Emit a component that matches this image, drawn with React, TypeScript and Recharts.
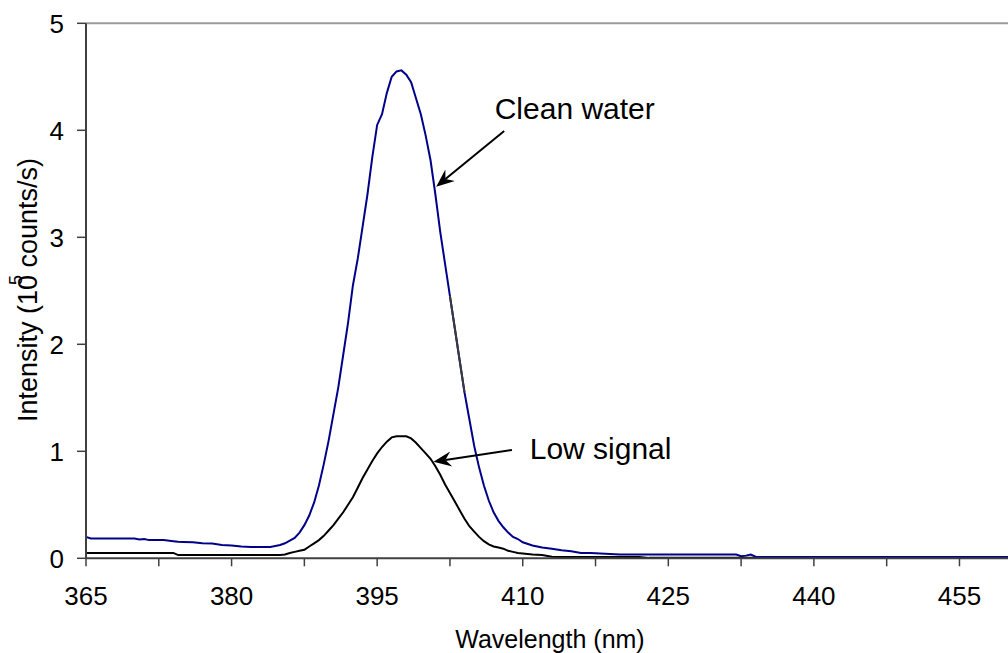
import React from 'react';
import { LineChart, Line, XAxis, YAxis, ReferenceLine, ReferenceDot } from 'recharts';

// Wavelength (nm)
const wavelengths = [
  365, 365.5, 366, 367, 368, 369, 370, 370.5, 371, 371.5, 372, 373, 374, 374.5, 375, 376, 377, 378, 379, 380,
  381, 382, 383, 384, 385, 385.5, 386, 386.5, 387, 387.5, 388, 388.5, 389, 389.5, 390, 390.5, 391, 391.5, 392, 392.5,
  393, 393.5, 394, 394.5, 395, 395.5, 396, 396.5, 397, 397.5, 398, 398.5, 399, 399.5, 400, 400.5, 401, 401.5, 402, 402.5,
  403, 403.5, 404, 404.5, 405, 405.5, 406, 406.5, 407, 407.5, 408, 408.5, 409, 409.5, 410, 411, 412, 413, 414, 415,
  416, 417, 418, 419, 420, 422, 423, 425, 430, 432, 432.5, 433, 433.5, 434, 435, 440, 445, 450, 455, 460,
];

// Intensity (10^5 counts/s)
const cleanWater = [
  0.2, 0.185, 0.185, 0.185, 0.185, 0.185, 0.185, 0.175, 0.18, 0.17, 0.17, 0.17, 0.16, 0.155, 0.153, 0.15, 0.14, 0.138, 0.125, 0.12,
  0.11, 0.106, 0.106, 0.106, 0.125, 0.14, 0.165, 0.19, 0.24, 0.31, 0.4, 0.52, 0.68, 0.88, 1.1, 1.35, 1.6, 1.9, 2.2, 2.55,
  2.8, 3.1, 3.4, 3.75, 4.05, 4.15, 4.35, 4.5, 4.55, 4.56, 4.52, 4.45, 4.3, 4.15, 3.95, 3.72, 3.4, 3.05, 2.75, 2.45,
  2.15, 1.85, 1.55, 1.3, 1.05, 0.85, 0.68, 0.54, 0.43, 0.35, 0.29, 0.24, 0.2, 0.18, 0.15, 0.12, 0.1, 0.09, 0.075, 0.065,
  0.05, 0.05, 0.045, 0.04, 0.035, 0.035, 0.035, 0.035, 0.035, 0.035, 0.02, 0.025, 0.035, 0.015, 0.012, 0.012, 0.012, 0.012, 0.012, 0.012,
];

const lowSignal = [
  0.05, 0.05, 0.05, 0.05, 0.05, 0.05, 0.05, 0.05, 0.05, 0.05, 0.05, 0.05, 0.05, 0.03, 0.03, 0.03, 0.03, 0.03, 0.03, 0.03,
  0.03, 0.03, 0.03, 0.03, 0.03, 0.035, 0.05, 0.06, 0.07, 0.08, 0.11, 0.14, 0.17, 0.21, 0.26, 0.31, 0.37, 0.43, 0.5, 0.57,
  0.66, 0.75, 0.83, 0.91, 0.98, 1.04, 1.09, 1.13, 1.14, 1.14, 1.14, 1.12, 1.08, 1.03, 0.98, 0.93, 0.86, 0.78, 0.69, 0.61,
  0.53, 0.45, 0.37, 0.3, 0.25, 0.2, 0.16, 0.13, 0.11, 0.1, 0.09, 0.07, 0.06, 0.05, 0.045, 0.035, 0.03, 0.015, 0.012, 0.012,
  0.012, 0.012, 0.012, 0.012, 0.012, 0.012, 0.004, 0.004, 0.004, 0.004, 0.004, 0.004, 0.004, 0.004, 0.004, 0.004, 0.004, 0.004, 0.004, 0.004,
];

// range of the clean-water curve that appears dark grey in the original
const greySegment = [402.4, 404.2];

const xTicks = [365, 372.5, 380, 387.5, 395, 402.5, 410, 417.5, 425, 432.5, 440, 447.5, 455];
const xLabelStep = 15;
const yTicks = [0, 1, 2, 3, 4, 5];

const FONT = '"Liberation Sans", Arial, sans-serif';
const AXIS_COLOR = '#404040';

const data = wavelengths.map((w, i) => ({
  w,
  clean: cleanWater[i],
  low: lowSignal[i],
  grey: w >= greySegment[0] && w <= greySegment[1] ? cleanWater[i] : null,
}));

const ArrowShape = (props: any) => {
  const { x1, y1, x2, y2 } = props;
  if ([x1, y1, x2, y2].some((v) => typeof v !== 'number' || isNaN(v))) return null;
  const dx = x2 - x1;
  const dy = y2 - y1;
  const len = Math.sqrt(dx * dx + dy * dy);
  const ux = dx / len;
  const uy = dy / len;
  const px = -uy;
  const py = ux;
  const L = 18;
  const W = 7.5;
  const notch = 12;
  const bx = x2 - ux * L;
  const by = y2 - uy * L;
  const nx = x2 - ux * notch;
  const ny = y2 - uy * notch;
  const pts = `${x2},${y2} ${bx + px * W},${by + py * W} ${nx},${ny} ${bx - px * W},${by - py * W}`;
  return (
    <g>
      <line x1={x1} y1={y1} x2={nx} y2={ny} stroke="#000" strokeWidth={2} />
      <polygon points={pts} fill="#000" />
    </g>
  );
};

const makeTextShape = (label: string) => (props: any) => {
  const { cx, cy } = props;
  return (
    <text x={cx} y={cy} fontFamily={FONT} fontSize={30} fill="#000">
      {label}
    </text>
  );
};

const XTitle = () => (
  <text x={550} y={648} textAnchor="middle" fontFamily={FONT} fontSize={25} fill="#000">
    Wavelength (nm)
  </text>
);

const YTitle = () => (
  <text
    transform="translate(37,290) rotate(-90)"
    textAnchor="middle"
    fontFamily={FONT}
    fontSize={27}
    fill="#000"
  >
    Intensity (10
    <tspan fontSize={18} dx={-10} dy={-15}>5</tspan>
    <tspan dy={15}> counts/s)</tspan>
  </text>
);

export default function App() {
  return (
    <div style={{ position: 'absolute', left: 0, top: 0, width: 1008, height: 653, background: '#fff' }}>
      <LineChart
        width={1008}
        height={653}
        data={data}
        margin={{ top: 23.3, right: 0, bottom: 0, left: 0 }}
      >
        <XAxis
          dataKey="w"
          type="number"
          domain={[365, 460]}
          ticks={xTicks}
          interval={0}
          allowDataOverflow
          tickFormatter={(v: number) => ((v - 365) % xLabelStep === 0 ? String(v) : '')}
          height={94.7}
          tickSize={8}
          tickMargin={20}
          axisLine={{ stroke: AXIS_COLOR, strokeWidth: 2 }}
          tickLine={{ stroke: AXIS_COLOR, strokeWidth: 1.5 }}
          tick={{ fill: '#000', fontSize: 26, fontFamily: FONT }}
          label={<XTitle />}
        />
        <YAxis
          type="number"
          domain={[0, 5]}
          ticks={yTicks}
          interval={0}
          width={86}
          tickSize={9}
          tickMargin={13}
          axisLine={{ stroke: AXIS_COLOR, strokeWidth: 2 }}
          tickLine={{ stroke: AXIS_COLOR, strokeWidth: 1.5 }}
          tick={{ fill: '#000', fontSize: 26, fontFamily: FONT }}
          label={<YTitle />}
        />
        <ReferenceLine y={5} stroke="#9a9a9a" strokeWidth={2} />
        <Line
          dataKey="low"
          stroke="#000000"
          strokeWidth={2}
          dot={false}
          isAnimationActive={false}
          type="linear"
        />
        <Line
          dataKey="clean"
          stroke="#000088"
          strokeWidth={2}
          dot={false}
          isAnimationActive={false}
          type="linear"
        />
        <Line
          dataKey="grey"
          stroke="#3a3a3a"
          strokeWidth={2}
          dot={false}
          connectNulls={false}
          isAnimationActive={false}
          type="linear"
        />
        <ReferenceLine
          segment={[{ x: 408.09, y: 3.993 }, { x: 401.08, y: 3.473 }]}
          shape={ArrowShape}
          ifOverflow="visible"
        />
        <ReferenceLine
          segment={[{ x: 408.89, y: 1.012 }, { x: 400.8, y: 0.903 }]}
          shape={ArrowShape}
          ifOverflow="visible"
        />
        <ReferenceDot x={407.11} y={4.103} r={0} shape={makeTextShape('Clean water')} ifOverflow="visible" />
        <ReferenceDot x={410.72} y={0.925} r={0} shape={makeTextShape('Low signal')} ifOverflow="visible" />
      </LineChart>
    </div>
  );
}
